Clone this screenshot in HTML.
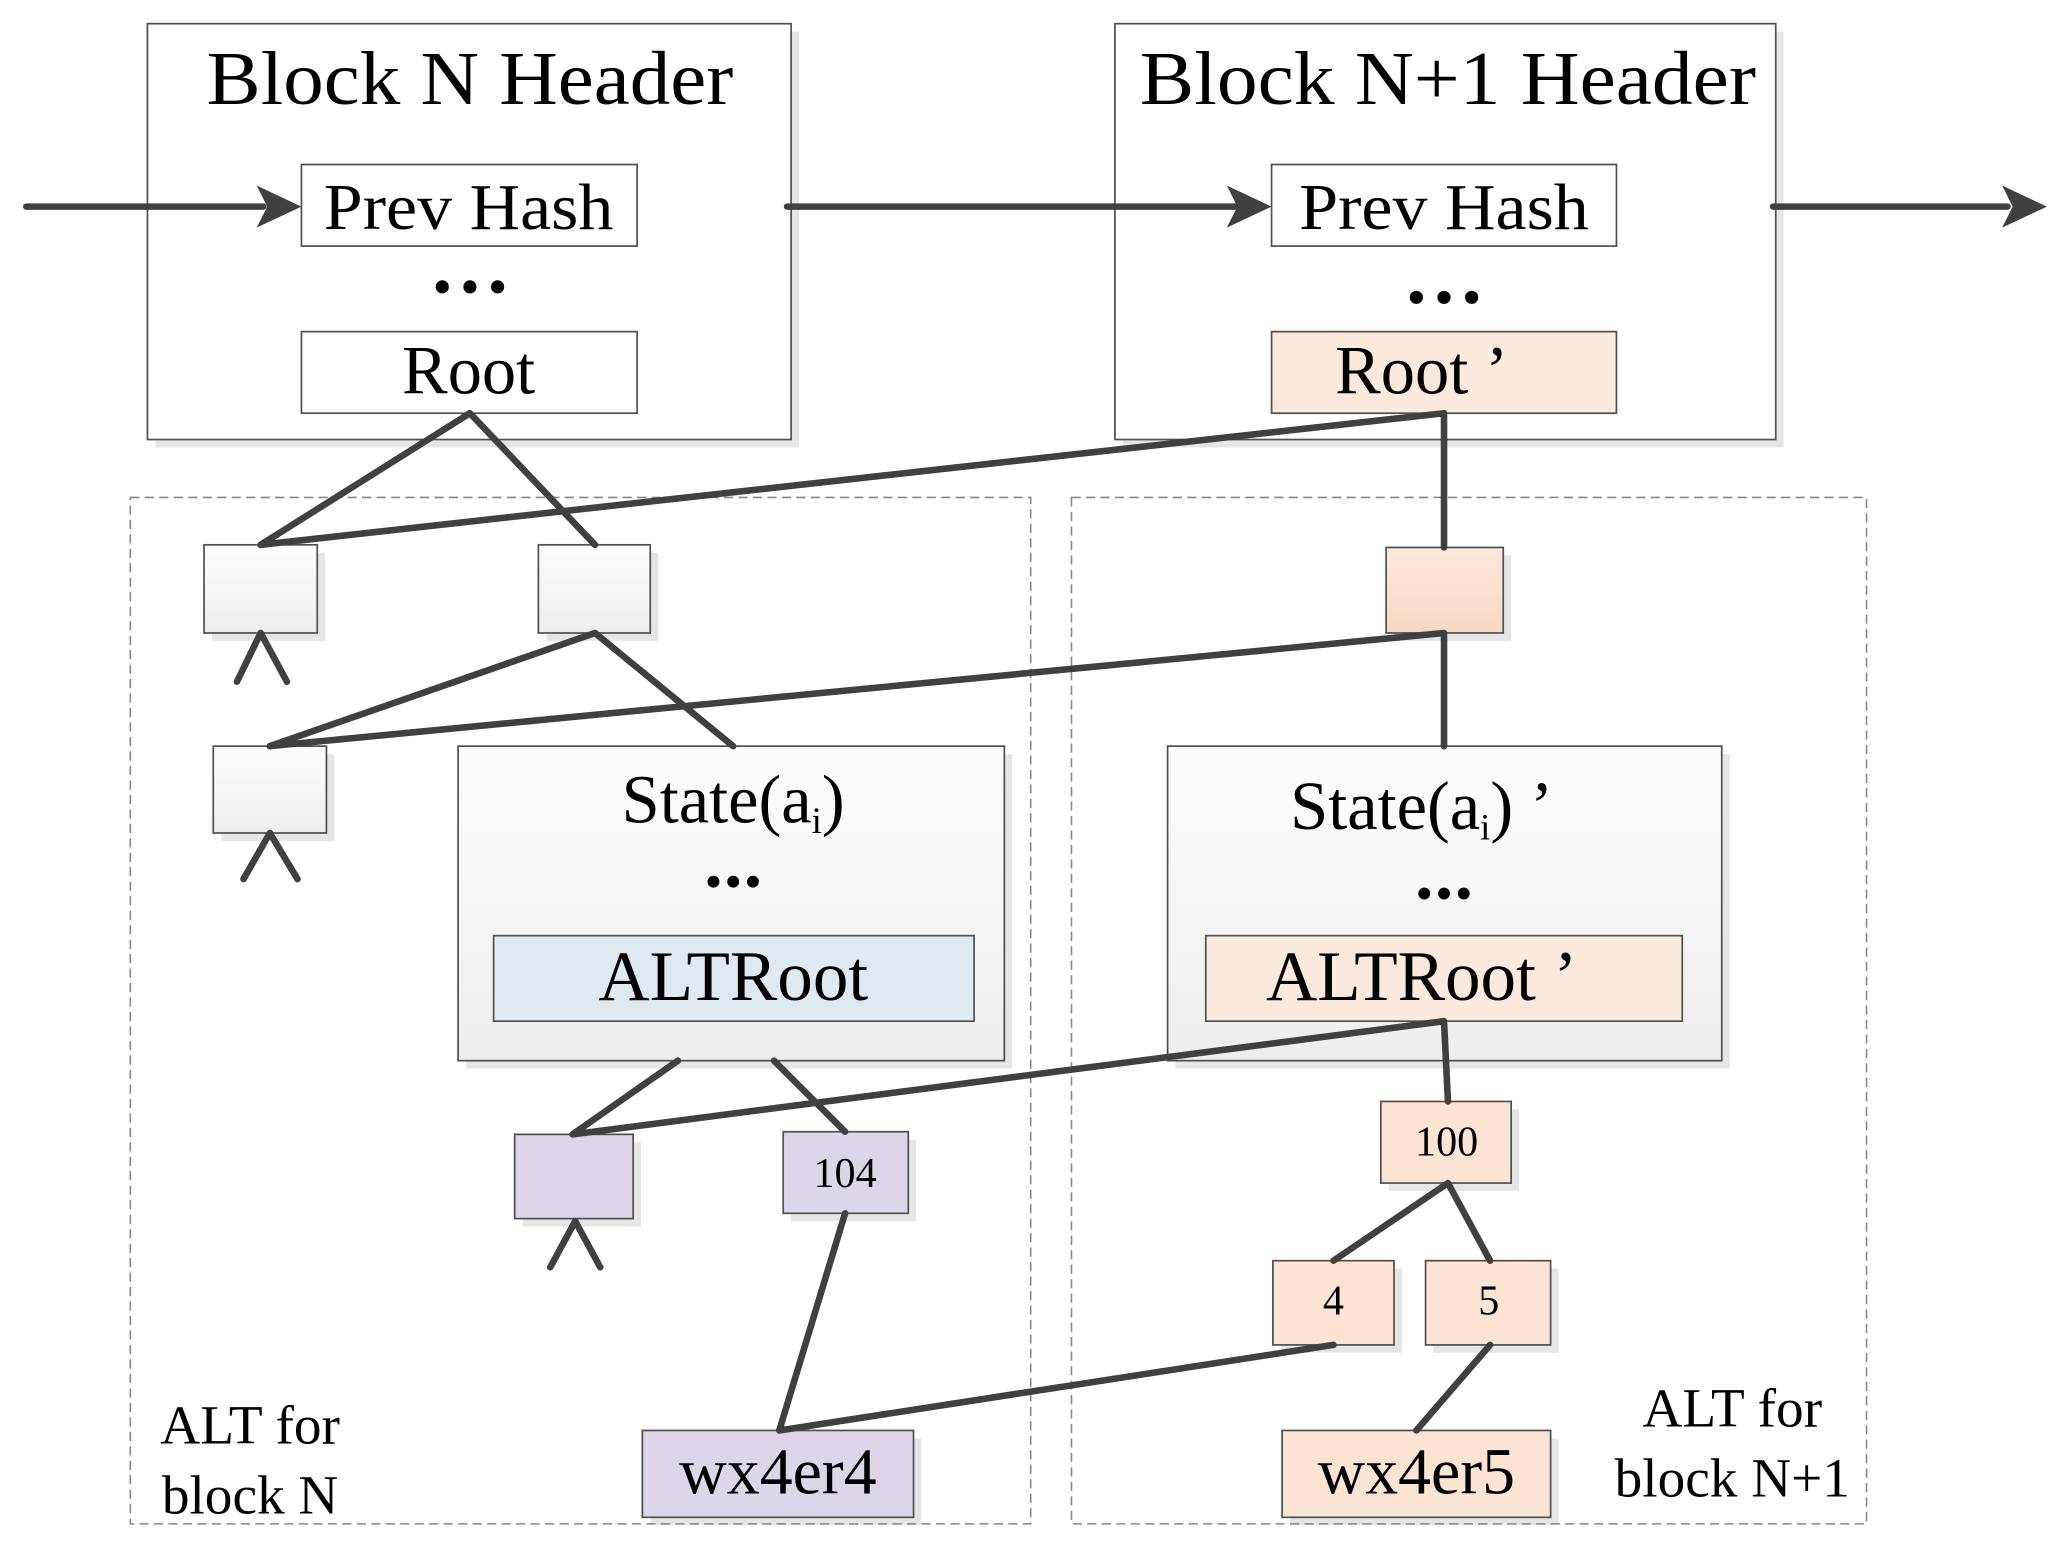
<!DOCTYPE html>
<html><head><meta charset="utf-8"><style>html,body{margin:0;padding:0;background:#fff}svg{display:block}svg text{font-family:"Liberation Serif","Times New Roman",serif}</style></head>
<body>
<svg width="2064" height="1541" viewBox="0 0 1568 1171" preserveAspectRatio="none" xmlns="http://www.w3.org/2000/svg">
<defs>
<linearGradient id="g" x1="0" y1="0" x2="0" y2="1"><stop offset="0" stop-color="#fdfdfd"/><stop offset="1" stop-color="#eeeeee"/></linearGradient>
<linearGradient id="p" x1="0" y1="0" x2="0" y2="1"><stop offset="0" stop-color="#fbe8dc"/><stop offset="1" stop-color="#f7d9c4"/></linearGradient>
</defs>
<g fill="#e6e6e6">
<rect x="118" y="24" width="489" height="316"/><rect x="853" y="24" width="502" height="316"/>
<rect x="235" y="131" width="255" height="62"/><rect x="235" y="258" width="255" height="62"/>
<rect x="972" y="131" width="262" height="62"/><rect x="972" y="258" width="262" height="62"/>
<rect x="161" y="420" width="86" height="67"/><rect x="415" y="420" width="85" height="67"/>
<rect x="168" y="573" width="86" height="66"/><rect x="1059" y="422" width="89" height="65"/>
<rect x="354" y="573" width="415" height="239"/><rect x="893" y="573" width="421" height="239"/>
<rect x="381" y="717" width="365" height="65"/><rect x="922" y="717" width="362" height="65"/>
<rect x="397" y="868" width="90" height="64"/><rect x="601" y="866" width="95" height="62"/>
<rect x="1055" y="843" width="99" height="62"/><rect x="973" y="964" width="92" height="64"/><rect x="1089" y="964" width="95" height="64"/>
<rect x="494" y="1093" width="206" height="66"/><rect x="980" y="1093" width="204" height="66"/>
</g>
<g stroke="#505050" stroke-width="1.3">
<rect x="112" y="18" width="489" height="316" fill="#fff"/>
<rect x="847" y="18" width="502" height="316" fill="#fff"/>
<rect x="229" y="125" width="255" height="62" fill="#fff"/>
<rect x="229" y="252" width="255" height="62" fill="#fff"/>
<rect x="966" y="125" width="262" height="62" fill="#fff"/>
<rect x="966" y="252" width="262" height="62" fill="#fbe9dd"/>
</g>
<g fill="none" stroke="#888" stroke-width="1.2" stroke-dasharray="7,4">
<rect x="99" y="378" width="684" height="780"/>
<rect x="814" y="378" width="604" height="780"/>
</g>
<g stroke="#505050" stroke-width="1.3">
<rect x="155" y="414" width="86" height="67" fill="url(#g)"/>
<rect x="409" y="414" width="85" height="67" fill="url(#g)"/>
<rect x="162" y="567" width="86" height="66" fill="url(#g)"/>
<rect x="1053" y="416" width="89" height="65" fill="url(#p)"/>
<rect x="348" y="567" width="415" height="239" fill="url(#g)"/>
<rect x="887" y="567" width="421" height="239" fill="url(#g)"/>
<rect x="375" y="711" width="365" height="65" fill="#dfe9f2"/>
<rect x="916" y="711" width="362" height="65" fill="#fbe9dd"/>
<rect x="391" y="862" width="90" height="64" fill="#dcd6e8"/>
<rect x="595" y="860" width="95" height="62" fill="#dcd6e8"/>
<rect x="1049" y="837" width="99" height="62" fill="#fbe4d4"/>
<rect x="967" y="958" width="92" height="64" fill="#fbe4d4"/>
<rect x="1083" y="958" width="95" height="64" fill="#fbe4d4"/>
<rect x="488" y="1087" width="206" height="66" fill="#dcd6e8"/>
<rect x="974" y="1087" width="204" height="66" fill="#fbe4d4"/>
</g>
<g stroke="#404040" stroke-width="5" fill="none" stroke-linecap="round" stroke-linejoin="round">
<polyline points="198,414 357,314 452,414"/>
<polyline points="198,414 1097,314 1097,416"/>
<polyline points="205,567 452,481 557,567"/>
<polyline points="205,567 1097,481 1097,567"/>
<polyline points="515,806 435,862 1097,776 1100,837"/>
<line x1="588" y1="806" x2="642" y2="860"/>
<polyline points="642,922 592,1087 1013,1022"/>
<polyline points="1013,958 1100,899 1132,958"/>
<line x1="1132" y1="1022" x2="1076" y2="1087"/>
<polyline points="180,518 198,481 218,518"/>
<polyline points="185,668 205,633 226,668"/>
<polyline points="418,963 437,928 456,963"/>
<line x1="20" y1="157" x2="200" y2="157"/>
<line x1="598" y1="157" x2="938" y2="157"/>
<line x1="1347" y1="157" x2="1525" y2="157"/>
</g>
<g fill="#404040">
<polygon points="229,157 195,141 203,157 195,173"/>
<polygon points="966,157 932,141 940,157 932,173"/>
<polygon points="1555,157 1521,141 1529,157 1521,173"/>
</g>
<g fill="#000">
<circle cx="336" cy="218" r="5"/><circle cx="357" cy="218" r="5"/><circle cx="378" cy="218" r="5"/>
<circle cx="1076" cy="226" r="5"/><circle cx="1097" cy="226" r="5"/><circle cx="1118" cy="226" r="5"/>
<circle cx="542" cy="670" r="4.5"/><circle cx="557" cy="670" r="4.5"/><circle cx="572" cy="670" r="4.5"/>
<circle cx="1082" cy="679" r="4.5"/><circle cx="1097" cy="679" r="4.5"/><circle cx="1112" cy="679" r="4.5"/>
</g>
<g fill="#000" text-anchor="middle">
<text x="357" y="79" font-size="58" textLength="400" lengthAdjust="spacingAndGlyphs">Block N Header</text>
<text x="1100" y="79" font-size="58" textLength="468" lengthAdjust="spacingAndGlyphs">Block N+1 Header</text>
<text x="356" y="174" font-size="50" textLength="220" lengthAdjust="spacingAndGlyphs">Prev Hash</text>
<text x="1097" y="174" font-size="50" textLength="220" lengthAdjust="spacingAndGlyphs">Prev Hash</text>
<text x="356" y="299" font-size="52">Root</text>
<text x="1080" y="299" font-size="52">Root ’</text>
<text x="557" y="625" font-size="52">State(a<tspan font-size="28" dy="8">i</tspan><tspan dy="-8">)</tspan></text>
<text x="1080" y="630" font-size="52">State(a<tspan font-size="28" dy="8">i</tspan><tspan dy="-8">) ’</tspan></text>
<text x="557" y="760" font-size="54">ALTRoot</text>
<text x="1080" y="760" font-size="54">ALTRoot ’</text>
<text x="642" y="902" font-size="32">104</text>
<text x="1099" y="878" font-size="32">100</text>
<text x="1013" y="999" font-size="32">4</text>
<text x="1131" y="999" font-size="32">5</text>
<text x="591" y="1135" font-size="50">wx4er4</text>
<text x="1076" y="1135" font-size="50">wx4er5</text>
<text x="190" y="1097" font-size="42">ALT for</text>
<text x="190" y="1150" font-size="42">block N</text>
<text x="1316" y="1084" font-size="42">ALT for</text>
<text x="1316" y="1137" font-size="42">block N+1</text>
</g>
</svg>
</body></html>
